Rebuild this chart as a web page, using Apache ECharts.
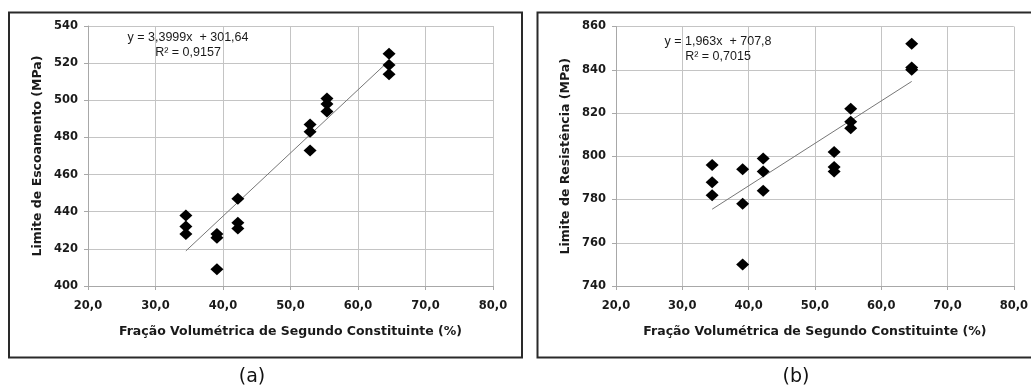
<!DOCTYPE html>
<html>
<head>
<meta charset="utf-8">
<script src="https://cdn.jsdelivr.net/npm/echarts@6/dist/echarts.min.js"></script>
<style>
  html, body { margin: 0; padding: 0; background: #fff; }
  #chart { width: 1031px; height: 387px; }
</style>
</head>
<body>
<div id="chart"></div>
<script>
// ---- data ----
const fractions = [34.5, 39.1, 42.2, 52.9, 55.4, 64.6];           // x (%) of each composition
const yieldStress = [                                               // (a) Limite de Escoamento (MPa)
  [438, 432, 428],
  [428, 426, 409],
  [447, 434, 431],
  [487, 483, 473],
  [501, 498, 494],
  [525, 519, 514]
];
const tensileStress = [                                             // (b) Limite de Resistência (MPa)
  [796, 788, 782],
  [794, 778, 750],
  [799, 793, 784],
  [802, 795, 793],
  [822, 816, 813],
  [852, 841, 840]
];
const trendA = [[34.5, 418.9], [64.6, 521.3]];
const trendB = [[34.5, 775.5], [64.6, 834.6]];
const eqA = ['y = 3,3999x  + 301,64', 'R² = 0,9157'];
const eqB = ['y = 1,963x  + 707,8', 'R² = 0,7015'];
const xTitle = 'Fração Volumétrica de Segundo Constituinte (%)';
const yTitleA = 'Limite de Escoamento (MPa)';
const yTitleB = 'Limite de Resistência (MPa)';
const panelLabels = ['(a)', '(b)'];

function pairs(xs, ys) {
  const out = [];
  xs.forEach((x, i) => ys[i].forEach(v => out.push([x, v])));
  return out;
}

const gridColor = '#c4c4c4';
const txtColor = '#1a1a1a';
const labelFont = { fontFamily: 'DejaVu Sans', fontWeight: 'bold', fontSize: 11.5, color: txtColor };
const nameFont = { fontFamily: 'DejaVu Sans', fontWeight: 'bold', fontSize: 12.5, color: txtColor };

function xAxisCfg(gi) {
  return {
    type: 'value', gridIndex: gi, min: 20, max: 80, interval: 10,
    axisLine: { show: true, lineStyle: { color: '#a8a8a8', width: 1 } },
    axisTick: { show: true, length: 4, lineStyle: { color: '#a8a8a8' } },
    splitLine: { show: true, lineStyle: { color: gridColor, width: 1 } },
    axisLabel: Object.assign({ margin: 14, formatter: v => v.toFixed(1).replace('.', ',') }, labelFont),
    name: xTitle, nameLocation: 'middle', nameGap: 39,
    nameTextStyle: Object.assign({}, nameFont)
  };
}
function yAxisCfg(gi, min, max, name) {
  return {
    type: 'value', gridIndex: gi, min: min, max: max, interval: 20,
    axisLine: { show: true, lineStyle: { color: '#a8a8a8', width: 1 } },
    axisTick: { show: true, length: 4, lineStyle: { color: '#a8a8a8' } },
    splitLine: { show: true, lineStyle: { color: gridColor, width: 1 } },
    axisLabel: Object.assign({ margin: 10 }, labelFont),
    name: name, nameLocation: 'middle', nameGap: 44,
    nameTextStyle: Object.assign({}, nameFont)
  };
}

const eqStyle = { fontFamily: 'Liberation Sans', fontSize: 12.5, fill: txtColor, textAlign: 'center', textVerticalAlign: 'middle' };

const chart = echarts.init(document.getElementById('chart'), null, { renderer: 'canvas' });
chart.setOption({
  backgroundColor: '#fff',
  animation: false,
  grid: [
    { left: 88, top: 26, width: 405, height: 260 },
    { left: 616, top: 26.5, width: 398, height: 259.5 }
  ],
  xAxis: [xAxisCfg(0), xAxisCfg(1)],
  yAxis: [yAxisCfg(0, 400, 540, yTitleA), yAxisCfg(1, 740, 860, yTitleB)],
  series: [
    { type: 'line', xAxisIndex: 0, yAxisIndex: 0, data: trendA, showSymbol: false, symbol: 'none',
      lineStyle: { color: '#777', width: 1 }, z: 2 },
    { type: 'scatter', xAxisIndex: 0, yAxisIndex: 0, data: pairs(fractions, yieldStress),
      symbol: 'diamond', symbolSize: [13, 12], itemStyle: { color: '#000', opacity: 1 }, z: 3 },
    { type: 'line', xAxisIndex: 1, yAxisIndex: 1, data: trendB, showSymbol: false, symbol: 'none',
      lineStyle: { color: '#777', width: 1 }, z: 2 },
    { type: 'scatter', xAxisIndex: 1, yAxisIndex: 1, data: pairs(fractions, tensileStress),
      symbol: 'diamond', symbolSize: [13, 12], itemStyle: { color: '#000', opacity: 1 }, z: 3 }
  ],
  graphic: [
    { type: 'rect', shape: { x: 9, y: 12.5, width: 513, height: 345 }, style: { fill: 'none', stroke: '#2a2a2a', lineWidth: 2 }, z: 10 },
    { type: 'rect', shape: { x: 537.5, y: 12.5, width: 500, height: 345 }, style: { fill: 'none', stroke: '#2a2a2a', lineWidth: 2 }, z: 10 },
    { type: 'text', x: 188, y: 38, style: Object.assign({ text: eqA[0] }, eqStyle), z: 10 },
    { type: 'text', x: 188, y: 53, style: Object.assign({ text: eqA[1] }, eqStyle), z: 10 },
    { type: 'text', x: 718, y: 42, style: Object.assign({ text: eqB[0] }, eqStyle), z: 10 },
    { type: 'text', x: 718, y: 57, style: Object.assign({ text: eqB[1] }, eqStyle), z: 10 },
    { type: 'text', x: 252, y: 377, style: { text: panelLabels[0], fontFamily: 'DejaVu Sans', fontSize: 19, fill: '#111', textAlign: 'center', textVerticalAlign: 'middle' }, z: 10 },
    { type: 'text', x: 796, y: 377, style: { text: panelLabels[1], fontFamily: 'DejaVu Sans', fontSize: 19, fill: '#111', textAlign: 'center', textVerticalAlign: 'middle' }, z: 10 }
  ]
});
</script>
</body>
</html>
